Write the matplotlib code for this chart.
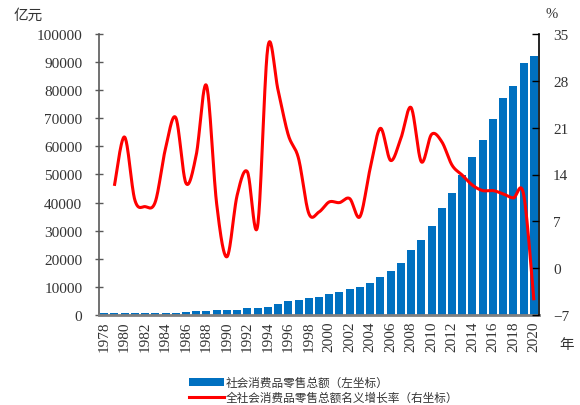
import numpy as np
import matplotlib
matplotlib.use("Agg")
import matplotlib.pyplot as plt
from matplotlib.patches import Patch
from matplotlib.lines import Line2D

# 社会消费品零售总额（亿元），1978-2020
years = list(range(1978, 2021))
retail = [600, 620, 600, 620, 650, 750, 800, 850, 900, 1400,
          1450, 1700, 1750, 1800, 2450, 2500, 2800, 3900, 4950, 5400,
          6100, 6500, 7600, 8100, 9100, 9850, 11300, 13400, 15600, 18400,
          23000, 26600, 31700, 38100, 43400, 49800, 56200, 62300, 69800, 77300,
          81500, 89700, 92200]

# 名义增长率（%），1979-2020
growth_years = list(range(1979, 2021))
growth = [12.3, 19.6, 10.2, 9.2, 9.9, 17.9, 22.5, 12.7, 16.9, 27.3,
          9.6, 1.7, 10.9, 14.4, 6.3, 33.0, 26.6, 19.9, 16.4, 8.2,
          8.4, 9.9, 9.8, 10.4, 7.7, 14.9, 20.9, 16.1, 19.4, 24.0,
          15.9, 20.0, 18.9, 15.4, 13.9, 12.4, 11.6, 11.6, 11.1, 10.5,
          11.0, -4.8]

left_ticks = list(range(0, 100001, 10000))
right_ticks = [-7, 0, 7, 14, 21, 28, 35]
xtick_years = list(range(1978, 2021, 2))

BLUE = "#0070C0"
RED = "#FF0000"
TXT = "#333333"
NUM_FONT = "Liberation Serif"
CJK = ["Noto Sans CJK SC", "DejaVu Sans"]


def smooth_curve(x, y, n=24):
    """Bezier smoothing through every point (Catmull-Rom style control points)."""
    x = np.asarray(x, float)
    y = np.asarray(y, float)
    px = np.concatenate([[x[0]], x, [x[-1]]])
    py = np.concatenate([[y[0]], y, [y[-1]]])
    xs, ys = [], []
    t = np.linspace(0, 1, n, endpoint=False)
    for i in range(1, len(px) - 2):
        p0 = np.array([px[i], py[i]])
        p3 = np.array([px[i + 1], py[i + 1]])
        c1 = p0 + (np.array([px[i + 1], py[i + 1]]) - np.array([px[i - 1], py[i - 1]])) / 6
        c2 = p3 - (np.array([px[i + 2], py[i + 2]]) - p0) / 6
        b = ((1 - t) ** 3)[:, None] * p0 + (3 * (1 - t) ** 2 * t)[:, None] * c1 \
            + (3 * (1 - t) * t ** 2)[:, None] * c2 + (t ** 3)[:, None] * p3
        xs.append(b[:, 0])
        ys.append(b[:, 1])
    xs.append([x[-1]])
    ys.append([y[-1]])
    return np.concatenate(xs), np.concatenate(ys)


fig = plt.figure(figsize=(5.8, 4.06), dpi=100)
ax = fig.add_axes([99 / 580, 1 - 316 / 406, 440 / 580, 281 / 406])
ax2 = ax.twinx()

ax.bar(years, retail, width=0.78, color=BLUE, zorder=2)
gx, gy = smooth_curve(growth_years, growth)
ax2.plot(gx, gy, color=RED, lw=2.2, solid_capstyle="butt", zorder=3)

ax.set_xlim(years[0] - 0.5, years[-1] + 0.5)
ax.set_ylim(0, 100000)
ax2.set_ylim(-7, 35)

ax.set_yticks(left_ticks)
ax2.set_yticks(right_ticks)
ax.set_xticks(xtick_years)
ax.set_xticklabels([str(y) for y in xtick_years], rotation=90,
                   fontfamily=NUM_FONT, fontsize=11, color=TXT)
for lab in ax.get_yticklabels():
    lab.set_fontfamily(NUM_FONT)
    lab.set_fontsize(11)
    lab.set_color(TXT)
for lab in ax2.get_yticklabels():
    lab.set_fontfamily(NUM_FONT)
    lab.set_fontsize(11)
    lab.set_color(TXT)

ax.tick_params(axis="x", length=0, pad=4)
ax.tick_params(axis="y", direction="inout", length=6, width=1, color="#595959", pad=9)
ax2.tick_params(axis="y", direction="in", length=5, width=1, color="#000000", pad=10)

for a in (ax, ax2):
    a.spines["top"].set_visible(False)
ax.spines["left"].set_color("#595959")
ax.spines["left"].set_linewidth(1.2)
ax.spines["bottom"].set_color("#7f7f7f")
ax.spines["bottom"].set_linewidth(2)
ax.spines["right"].set_visible(False)
ax2.spines["left"].set_visible(False)
ax2.spines["bottom"].set_visible(False)
ax2.spines["right"].set_color("#000000")
ax2.spines["right"].set_linewidth(1.2)

fig.text(28 / 580, 1 - 16 / 406, "亿元", family=CJK, fontsize=10.5,
         color=TXT, ha="center", va="center")
fig.text(552 / 580, 1 - 15 / 406, "%", family=NUM_FONT, fontsize=10.5,
         color=TXT, ha="center", va="center")
fig.text(567 / 580, 1 - 345 / 406, "年", family=CJK, fontsize=10.5,
         color=TXT, ha="center", va="center")

handles = [Patch(facecolor=BLUE, edgecolor="none"),
           Line2D([0], [0], color=RED, lw=2.2)]
labels = ["社会消费品零售总额（左坐标）", "全社会消费品零售总额名义增长率（右坐标）"]
fig.legend(handles, labels, loc="upper left",
           bbox_to_anchor=(189 / 580, 1 - 377 / 406), frameon=False,
           prop={"family": CJK, "size": 8.4}, handlelength=3.0,
           handletextpad=0.15, labelspacing=0.2, borderpad=0,
           borderaxespad=0, labelcolor=TXT)

fig.savefig("out.png", dpi=100)
